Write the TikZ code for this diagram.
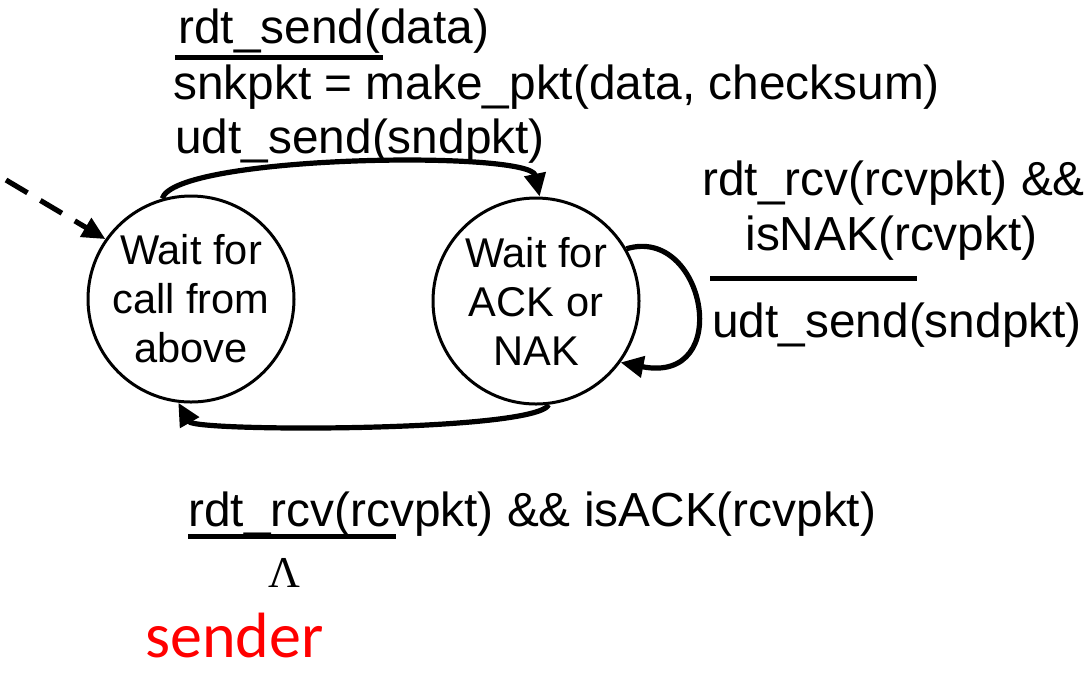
\documentclass[tikz,border=0pt]{standalone}
\usepackage{fontspec}
\setmainfont{Liberation Sans}
\newfontfamily\lamfont{Liberation Serif}
\newfontfamily\tagfont{Carlito}
\usetikzlibrary{arrows.meta}
\definecolor{tagred}{RGB}{255,0,0}
\tikzset{
  state/.style={circle, draw, line width=1.5pt, minimum size=103pt, inner sep=0pt,
    align=center, font=\fontsize{20.8}{24.5}\selectfont},
  label/.style={anchor=base west, inner sep=0pt, font=\fontsize{23.9}{28}\selectfont},
  trans/.style={line width=2.6pt, -{Triangle[length=11.5pt,width=10.5pt]}},
  bar/.style={line width=2.5pt},
}
\begin{document}
\begin{tikzpicture}[x=0.5pt,y=-0.5pt]
\useasboundingbox (0,0) rectangle (1090,677);

% states
\node[state] (L) at (191,299) {Wait for\\call from\\above};
\node[state] (R) at (536,301) {Wait for\\ACK or\\NAK};

% initial transition
\coordinate (init) at (6,180);
\draw[trans, dash pattern=on 12.5pt off 7.5pt] (init) -- (L.145);

% send transition
\node[label] (s1) at (178,43) {rdt\_send(data)};
\node[label] (s2) at (173,99) {snkpkt = make\_pkt(data, checksum)};
\node[label] (s3) at (175,153) {udt\_send(sndpkt)};
\draw[bar] (175,57) -- (383,57);
\draw[trans] (L.106) .. controls (175,155) and (530,150) .. (R.88);

% retransmit on NAK
\node[label] (n1) at (702,195) {rdt\_rcv(rcvpkt) \&\&};
\node[label] (n2) at (745,250) {isNAK(rcvpkt)};
\draw[bar] (710,278) -- (917,278);
\node[label] (n3) at (712,337) {udt\_send(sndpkt)};
\draw[trans] (R.30) .. controls (705,225) and (735,385) .. (R.-36);

% ACK received
\draw[trans] (R.-83) .. controls (535,432) and (195,432) .. (L.-97);
\node[label] (a1) at (188,526) {rdt\_rcv(rcvpkt) \&\& isACK(rcvpkt)};
\draw[bar] (188,536) -- (396,536);
\node[anchor=base, inner sep=0pt, font=\lamfont\fontsize{22}{26}\selectfont] (lam) at (284,587) {Λ};

% caption
\node[anchor=base west, inner sep=0pt, text=tagred, font=\tagfont\fontsize{32}{38}\selectfont] (tag) at (145,657) {sender};
\end{tikzpicture}
\end{document}
